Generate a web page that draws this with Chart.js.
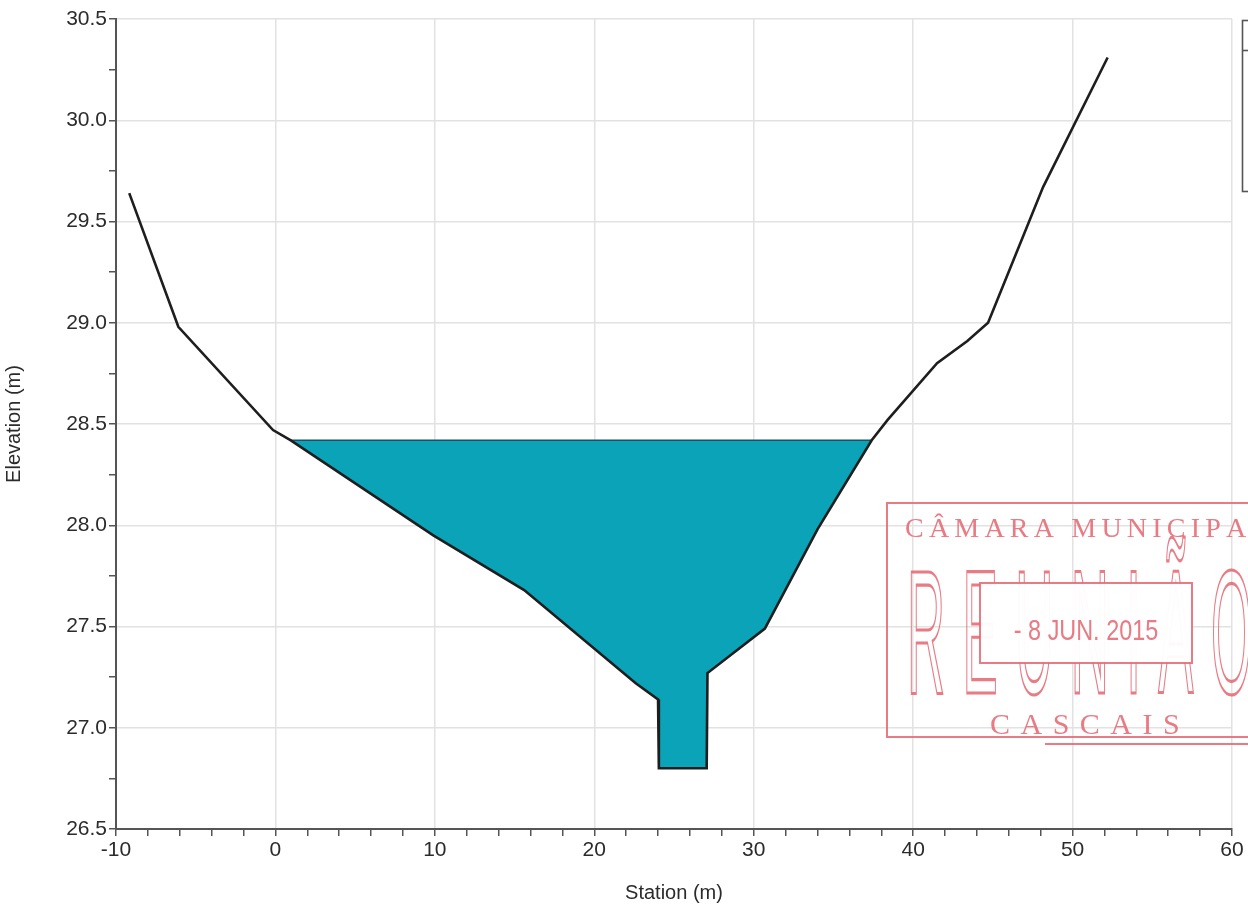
<!DOCTYPE html>
<html><head><meta charset="utf-8">
<script src="https://cdn.jsdelivr.net/npm/chart.js@4.4.1/dist/chart.umd.min.js"></script>
<style>html,body{margin:0;padding:0;background:#fff;} #c{display:block;}</style>
</head><body>
<canvas id="c" width="1248" height="908"></canvas>
<script>
// ---- data ----
const station   = [-9.17, -6.09, -0.15, 0.94, 9.9, 15.6, 22.6, 24.0, 24.05, 27.05, 27.1, 30.7, 34.0, 37.4, 38.4, 41.5, 43.4, 44.7, 48.15, 52.2];
const elevation = [29.64, 28.98, 28.47, 28.42, 27.95, 27.68, 27.22, 27.14, 26.80, 26.80, 27.27, 27.49, 27.98, 28.42, 28.52, 28.80, 28.91, 29.00, 29.67, 30.31];
const waterLevel = 28.42;
const xMin = -10, xMax = 60, xStep = 2, xLabelEvery = 10;
const yMin = 26.5, yMax = 30.5, yStep = 0.25, yLabelEvery = 0.5;
const xTitle = 'Station (m)';
const yTitle = 'Elevation (m)';
const stampTop = 'CÂMARA MUNICIPAL';
const stampBig = 'REUNIÃO';
const stampDate = '- 8 JUN. 2015';
const stampBottom = 'CASCAIS';

// ---- derived series ----
const ground = station.map((s, i) => ({x: s, y: elevation[i]}));
let first = -1, last = -1;
elevation.forEach((e, i) => { if (e <= waterLevel + 1e-9) { if (first < 0) first = i; last = i; } });
const bed = ground.slice(first, last + 1);
const surface = [{x: station[first], y: waterLevel}, {x: station[last], y: waterLevel}];

const isMult = (v, m) => Math.abs(v / m - Math.round(v / m)) < 1e-6;

function spacedText(ctx, txt, x, y, spacing, mode) {
  for (const ch of txt) {
    if (mode === 'stroke') ctx.strokeText(ch, x, y); else ctx.fillText(ch, x, y);
    x += ctx.measureText(ch).width + spacing;
  }
}

const bgPlugin = {
  id: 'bg',
  beforeDraw(chart) {
    const c = chart.ctx; c.save(); c.fillStyle = '#fff'; c.fillRect(0, 0, chart.width, chart.height); c.restore();
  }
};

const stampPlugin = {
  id: 'stamp',
  afterDraw(chart) {
    const ctx = chart.ctx;
    ctx.save();
    // legend box fragment (top right)
    ctx.strokeStyle = '#555'; ctx.lineWidth = 1.6;
    ctx.strokeRect(1242.5, 20.5, 40, 171);
    ctx.beginPath(); ctx.moveTo(1242, 50.5); ctx.lineTo(1248, 50.5); ctx.stroke();

    const red = 'rgba(228,100,110,0.85)';
    ctx.strokeStyle = red; ctx.fillStyle = red;
    ctx.lineWidth = 2;
    ctx.strokeRect(887, 503, 420, 234);
    ctx.beginPath(); ctx.moveTo(1045, 744); ctx.lineTo(1248, 744); ctx.stroke();

    ctx.textBaseline = 'alphabetic'; ctx.textAlign = 'left';
    ctx.font = '28px "Liberation Serif"';
    spacedText(ctx, stampTop, 905, 537, 5.2);

    // big outlined letters
    ctx.save();
    ctx.translate(907, 693);
    ctx.scale(0.3, 1);
    ctx.font = '176px "Liberation Sans"';
    ctx.lineWidth = 3.2;
    spacedText(ctx, stampBig, 0, 0, 58, 'stroke');
    ctx.restore();

    // inner date box
    ctx.fillStyle = 'rgba(255,255,255,0.96)';
    ctx.fillRect(980, 583, 212, 80);
    ctx.lineWidth = 2;
    ctx.strokeRect(980, 583, 212, 80);
    ctx.fillStyle = red;
    ctx.save();
    ctx.translate(1086, 640);
    ctx.scale(0.78, 1);
    ctx.font = '30px "Liberation Sans"';
    ctx.textAlign = 'center';
    ctx.fillText(stampDate, 0, 0);
    ctx.restore();

    ctx.font = '30px "Liberation Serif"';
    spacedText(ctx, stampBottom, 990, 734, 10.5);
    ctx.restore();
  }
};

const tickFont = {family: '"Liberation Sans", Arial, sans-serif', size: 21};
const titleFont = {family: '"Liberation Sans", Arial, sans-serif', size: 20};

new Chart(document.getElementById('c'), {
  type: 'line',
  data: {
    datasets: [
      {label: 'Ground', data: ground, borderColor: '#1e1e1e', borderWidth: 2.6, pointRadius: 0, fill: false, tension: 0, order: 0},
      {label: 'Water surface', data: surface, borderColor: '#1d4f68', borderWidth: 1.4, pointRadius: 0, fill: false, order: 1},
      {label: 'Water', data: bed, borderColor: 'rgba(0,0,0,0)', borderWidth: 0, pointRadius: 0,
       backgroundColor: '#0aa3b8', fill: {value: waterLevel}, order: 2}
    ]
  },
  options: {
    responsive: false,
    animation: false,
    devicePixelRatio: 1,
    layout: {padding: {top: 19, right: 16, left: 0, bottom: 0}},
    plugins: {legend: {display: false}, tooltip: {enabled: false}},
    scales: {
      x: {
        type: 'linear', min: xMin, max: xMax,
        afterFit: s => { s.height = 79; },
        ticks: {stepSize: xStep, autoSkip: false, maxRotation: 0, color: '#2b2b2b', font: tickFont, padding: 2,
                callback: v => isMult(v, xLabelEvery) ? String(Math.round(v)) : ''},
        grid: {color: c => (c.tick && isMult(c.tick.value, xLabelEvery)) ? '#e2e2e2' : 'rgba(0,0,0,0)',
               tickColor: '#555', tickLength: 7, lineWidth: 1.5, tickWidth: 1.5},
        border: {color: '#555', width: 2},
        title: {display: true, text: xTitle, color: '#2b2b2b', font: titleFont, padding: {top: 0, bottom: 3}}
      },
      y: {
        type: 'linear', min: yMin, max: yMax,
        afterFit: s => { s.width = 116; },
        ticks: {stepSize: yStep, autoSkip: false, color: '#2b2b2b', font: tickFont, padding: 2,
                callback: v => isMult(v, yLabelEvery) ? v.toFixed(1) : ''},
        grid: {color: c => (c.tick && isMult(c.tick.value, yLabelEvery)) ? '#e2e2e2' : 'rgba(0,0,0,0)',
               tickColor: '#555', tickLength: 7, lineWidth: 1.5, tickWidth: 1.5},
        border: {color: '#555', width: 2},
        title: {display: true, text: yTitle, color: '#2b2b2b', font: titleFont, padding: {top: 2, bottom: 0}}
      }
    }
  },
  plugins: [bgPlugin, stampPlugin]
});
</script>
</body></html>
